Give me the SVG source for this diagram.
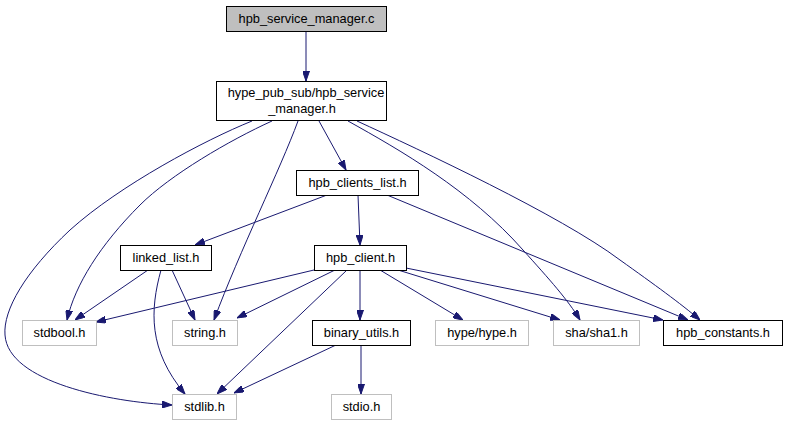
<svg xmlns="http://www.w3.org/2000/svg" width="788" height="425" viewBox="0 0 788 425">
<style>
.n rect{fill:#fff;stroke:#000;stroke-width:1}
.g rect{fill:#fff;stroke:#bfbfbf;stroke-width:1}
.top rect{fill:#bfbfbf;stroke:#000;stroke-width:1}
text{font-family:"Liberation Sans",Arial,sans-serif;font-size:12.8px;fill:#000;text-anchor:middle}
#edges path{fill:none;stroke:#191970;stroke-width:1;marker-end:url(#arr)}
</style>
<defs>
<marker id="arr" viewBox="0 0 10 7" refX="10" refY="3.5" markerWidth="10" markerHeight="7" orient="auto" markerUnits="userSpaceOnUse">
<path d="M0,0 L10,3.5 L0,7 Z" fill="#191970" stroke="#191970" stroke-width="1"/>
</marker>
</defs>
<rect width="788" height="425" fill="#fff"/>
<g id="edges">
<path d="M306,31 L306,81"/>
<path d="M252,121 C205,140 120,185 70,230 C25,272 3,310 5,335 C8,382 110,402 172,405"/>
<path d="M272,121 C230,140 170,175 140,205 C100,245 75,285 67,320"/>
<path d="M298,121 C280,170 240,250 214,320"/>
<path d="M319,121 L346,170"/>
<path d="M348,121 C400,150 470,190 523,250 C550,280 568,300 580,320"/>
<path d="M357,121 C420,150 560,215 620,260 C655,285 680,303 700,320"/>
<path d="M327,195 L195,245"/>
<path d="M358,195 L360,245"/>
<path d="M387,195 L688,320"/>
<path d="M148,270 L75,320"/>
<path d="M172,270 L195,320"/>
<path d="M161,270 C150,310 148,350 185,394"/>
<path d="M314,270 L96,322"/>
<path d="M335,270 L237,318"/>
<path d="M347,270 L217,394"/>
<path d="M360,270 L360,320"/>
<path d="M380,270 L463,320"/>
<path d="M398,270 L560,320"/>
<path d="M406,268 L663,320"/>
<path d="M336,345 L234,393"/>
<path d="M361,345 L361,394"/>
</g>
<g id="node_top" class="top"><rect x="226.5" y="6.5" width="160" height="25"/><text x="306.5" y="23">hpb_service_manager.c</text></g>
<g id="node_hps" class="n"><rect x="216.5" y="81.5" width="170" height="39"/><text x="306" y="97">hype_pub_sub/hpb_service</text><text x="302" y="113">_manager.h</text></g>
<g id="node_clients_list" class="n"><rect x="296.5" y="170.5" width="122" height="25"/><text x="357.5" y="187">hpb_clients_list.h</text></g>
<g id="node_linked_list" class="n"><rect x="120.5" y="245.5" width="91" height="25"/><text x="166" y="262">linked_list.h</text></g>
<g id="node_hpb_client" class="n"><rect x="314.5" y="245.5" width="92" height="25"/><text x="360.5" y="262">hpb_client.h</text></g>
<g id="node_stdbool" class="g"><rect x="22.5" y="320.5" width="74" height="25"/><text x="59.5" y="337">stdbool.h</text></g>
<g id="node_string" class="g"><rect x="172.5" y="320.5" width="65" height="25"/><text x="205" y="337">string.h</text></g>
<g id="node_binary_utils" class="n"><rect x="312.5" y="320.5" width="98" height="25"/><text x="361.5" y="337">binary_utils.h</text></g>
<g id="node_hype" class="g"><rect x="435.5" y="320.5" width="93" height="25"/><text x="482" y="337">hype/hype.h</text></g>
<g id="node_sha1" class="g"><rect x="553.5" y="320.5" width="86" height="25"/><text x="596.5" y="337">sha/sha1.h</text></g>
<g id="node_constants" class="n"><rect x="663.5" y="320.5" width="119" height="25"/><text x="723" y="337">hpb_constants.h</text></g>
<g id="node_stdlib" class="g"><rect x="172.5" y="394.5" width="64" height="25"/><text x="204.5" y="411">stdlib.h</text></g>
<g id="node_stdio" class="g"><rect x="331.5" y="394.5" width="60" height="25"/><text x="361.5" y="411">stdio.h</text></g>
</svg>
